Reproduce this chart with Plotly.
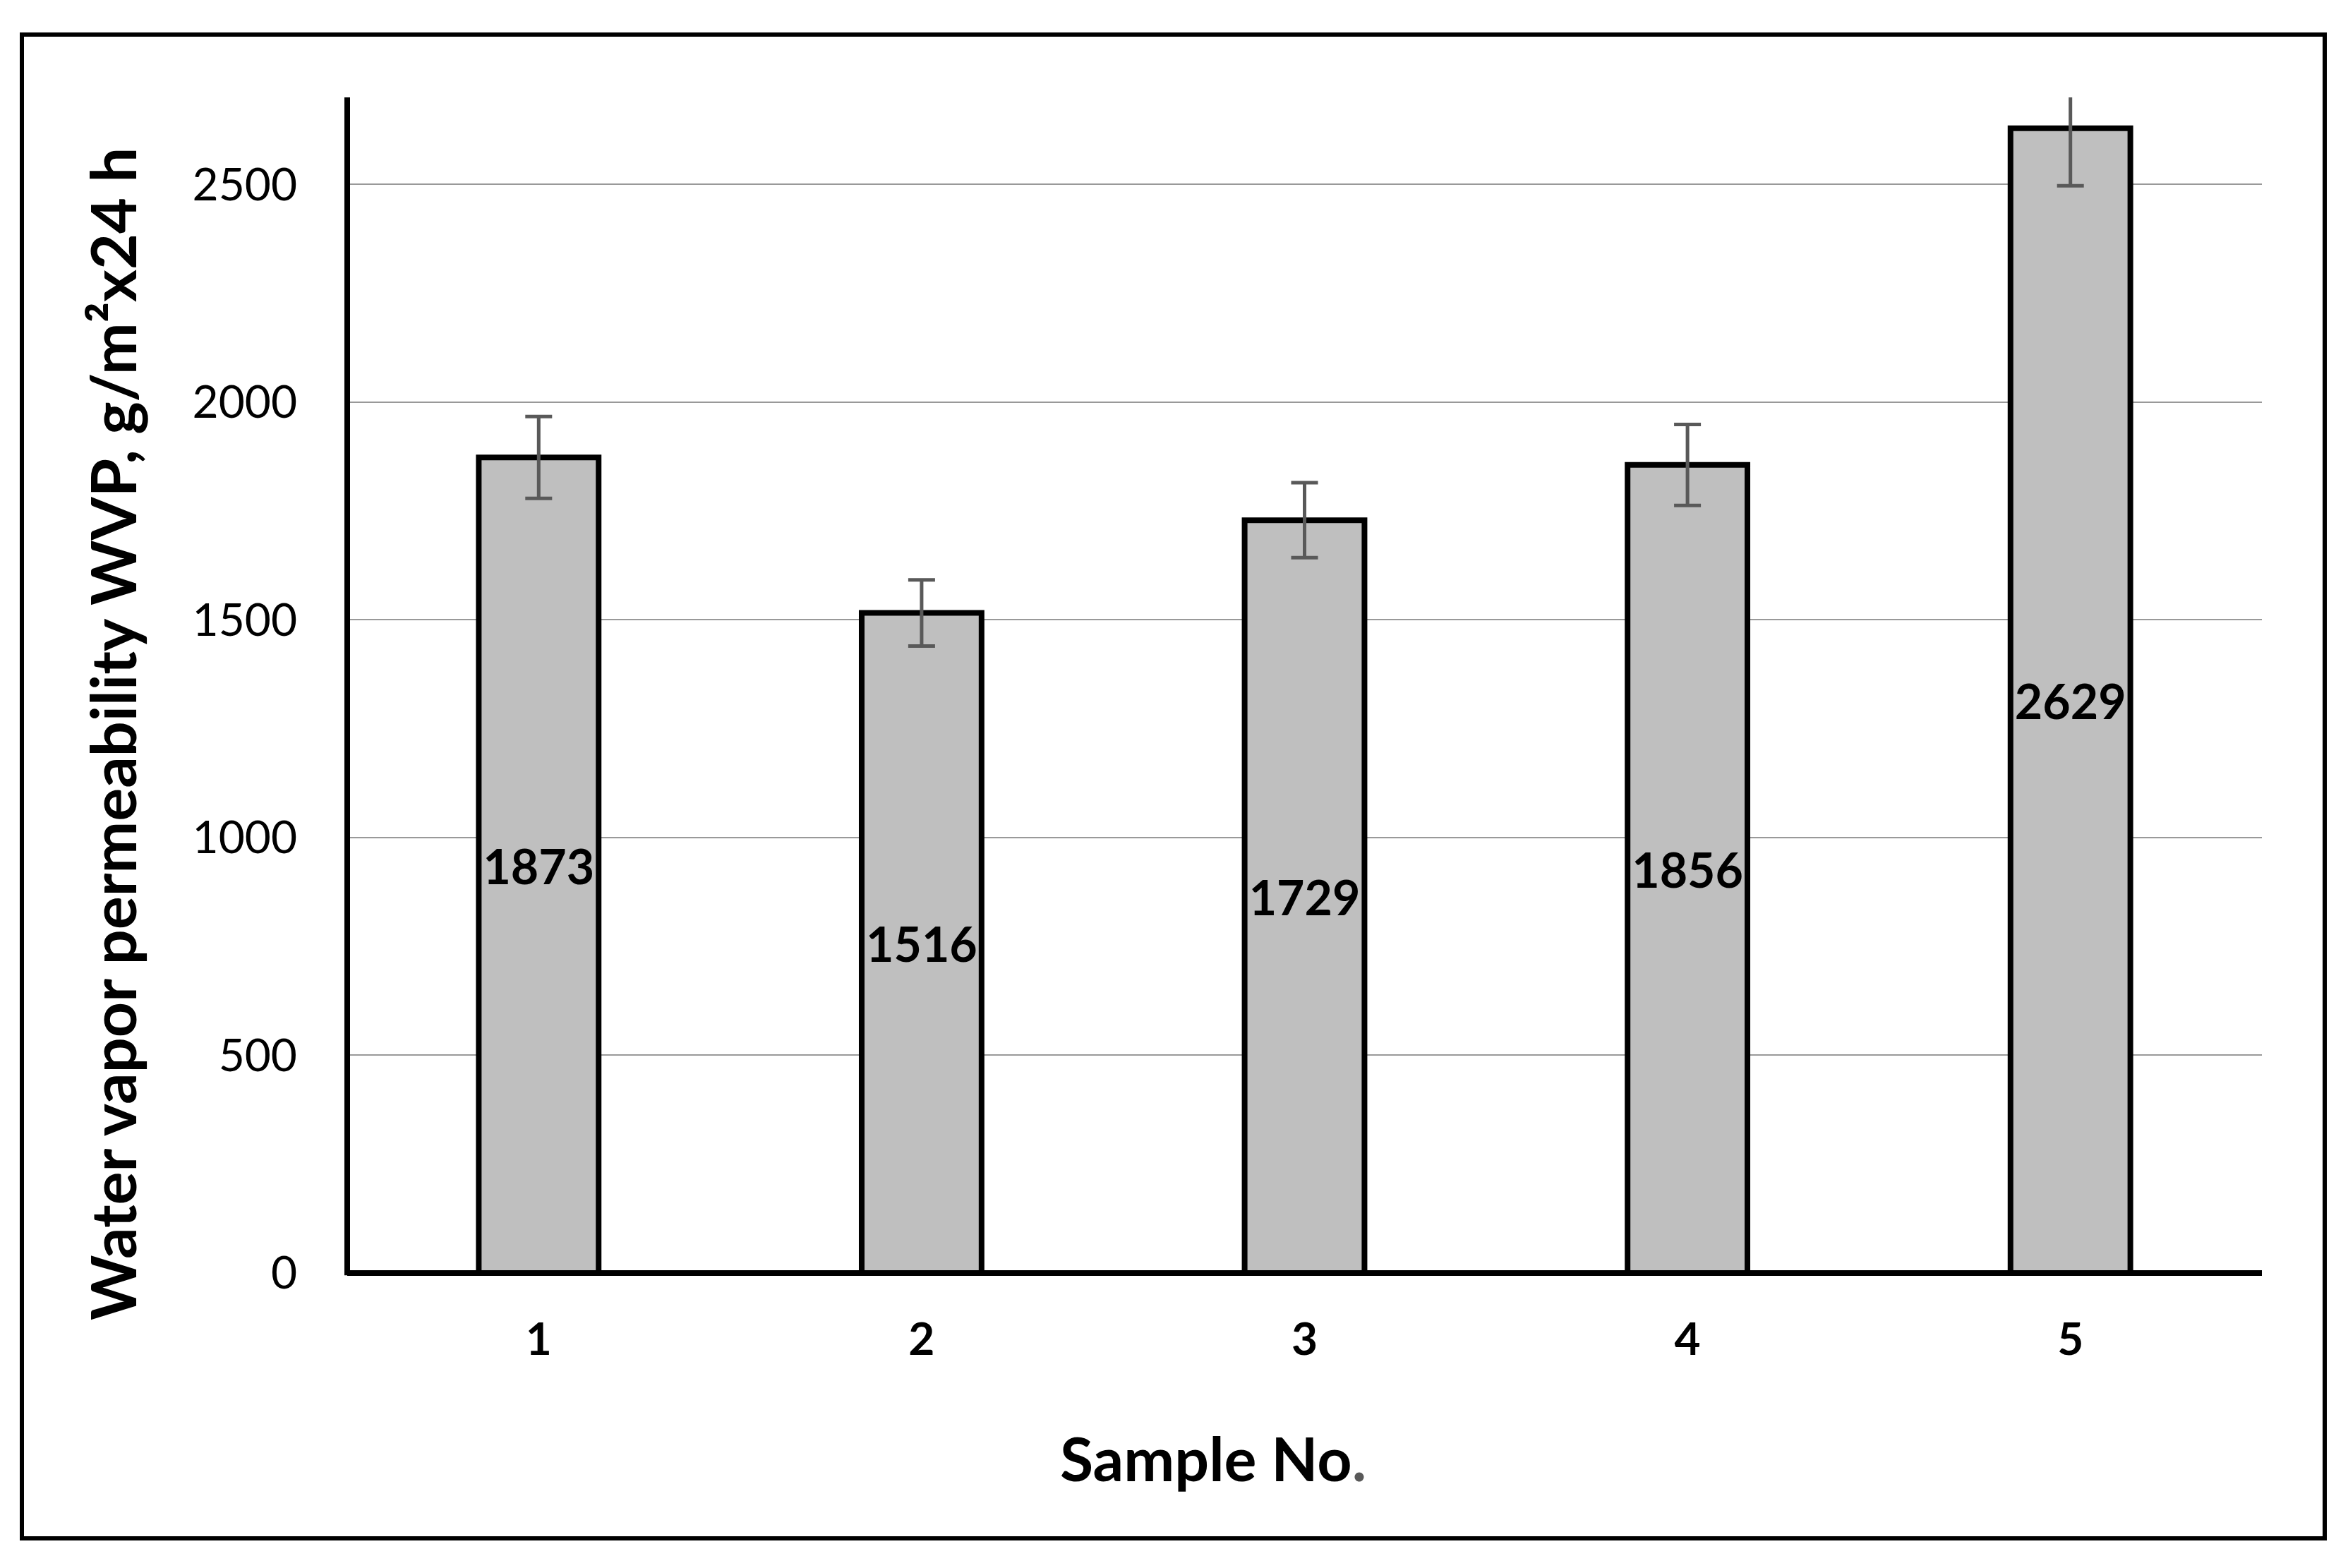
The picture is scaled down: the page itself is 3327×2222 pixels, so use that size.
import plotly.graph_objects as go

samples = ["1", "2", "3", "4", "5"]
wvp = [1873, 1516, 1729, 1856, 2629]
wvp_err = [94, 76, 86, 93, 132]
y_ticks = [0, 500, 1000, 1500, 2000, 2500]

W, H = 3327, 2222
OFF = 8  # page body margin
ML, MT = 492 - OFF, 138 - OFF
PLOT_R, PLOT_B = 3205 - OFF, 1804 - OFF
MR, MB = W - PLOT_R, H - PLOT_B
PW, PH = PLOT_R - ML, PLOT_B - MT

FONT = "Lato"
Y_MAX = 2700


def px_x(p):
    return (p - OFF - ML) / PW


def px_y(p):
    return (PLOT_B - (p - OFF)) / PH


fig = go.Figure()
fig.add_trace(go.Bar(
    x=samples,
    y=wvp,
    width=0.313,
    marker=dict(color="#BFBFBF", line=dict(color="black", width=8)),
    error_y=dict(type="data", array=wvp_err, visible=True,
                 color="#595959", thickness=5, width=19),
    text=[str(v) for v in wvp],
    textposition="inside",
    insidetextanchor="middle",
    textangle=0,
    textfont=dict(family=FONT, size=68, color="black", weight="bold"),
    cliponaxis=True,
    showlegend=False,
))

# outer frame
fig.add_shape(type="rect", xref="paper", yref="paper",
              x0=px_x(31), x1=px_x(3294), y0=px_y(2180), y1=px_y(49),
              line=dict(color="black", width=6), fillcolor="rgba(0,0,0,0)",
              layer="below")
# vertical axis line at the left edge of the plot area
fig.add_shape(type="line", xref="paper", yref="paper",
              x0=0, x1=0, y0=-0.002, y1=1,
              line=dict(color="black", width=8), layer="above")

fig.add_annotation(
    xref="paper", yref="paper", x=px_x(1719), y=px_y(2065),
    xanchor="center", yanchor="middle", showarrow=False,
    text="Sample No<span style='color:#595959'>.</span>",
    font=dict(family=FONT, size=86, color="black", weight="bold"),
)
fig.add_annotation(
    xref="paper", yref="paper", x=px_x(159), y=px_y(1040),
    xanchor="center", yanchor="middle", showarrow=False, textangle=-90,
    text="Water vapor permeability WVP, g/m²x24 h",
    font=dict(family=FONT, size=88, color="black", weight="bold"),
)

fig.update_layout(
    width=W, height=H,
    margin=dict(l=ML, r=MR, t=MT, b=MB, pad=0),
    paper_bgcolor="white",
    plot_bgcolor="white",
    font=dict(family=FONT, color="black"),
)

fig.update_xaxes(
    type="category",
    range=[-0.5, 4.5],
    showline=False,
    showgrid=False, ticks="",
    tickfont=dict(family=FONT, size=64, color="black", weight="bold"),
    ticklabelstandoff=51,
)

fig.update_yaxes(
    range=[0, Y_MAX],
    tickvals=y_ticks,
    ticktext=[str(t) for t in y_ticks],
    showline=False,
    showgrid=True, gridcolor="#999999", gridwidth=2,
    zeroline=True, zerolinecolor="black", zerolinewidth=8,
    ticks="",
    tickfont=dict(family=FONT, size=64, color="black"),
    ticklabelstandoff=70,
)

fig.write_html("out.html")
